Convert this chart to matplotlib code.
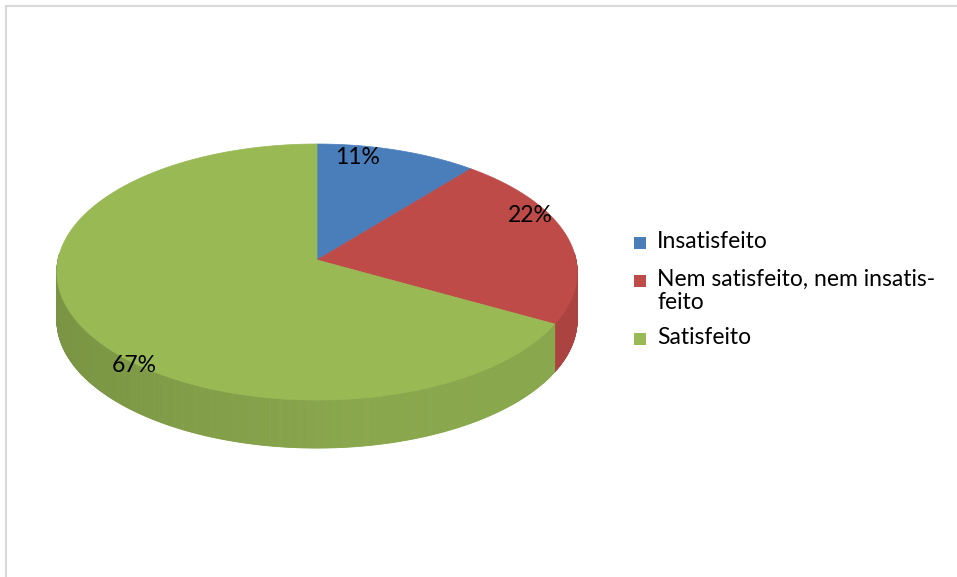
import numpy as np
import matplotlib
matplotlib.use("Agg")
import matplotlib.pyplot as plt
from matplotlib.patches import Polygon, Rectangle

# satisfaction survey, share of answers (%)
labels = ["Insatisfeito", "Nem satisfeito, nem insatis-\nfeito", "Satisfeito"]
values = [11, 22, 67]
colors = ["#4a7ebb", "#be4b48", "#98b954"]

plt.rcParams['font.family'] = ['Lato', 'DejaVu Sans']

W, H = 957, 577
fig = plt.figure(figsize=(W / 100, H / 100), dpi=100)
ax = fig.add_axes([0, 0, 1, 1])
ax.set_xlim(0, W)
ax.set_ylim(H, 0)
ax.axis("off")

# pie geometry in pixels, with a bit of perspective (far side smaller)
cx, cy = 317, 260
rx, ry = 259, 126.9
k = 0.094
depth = 48


def proj(theta, r=1.0):
    u = r * np.cos(theta)
    v = r * np.sin(theta)
    d = 1 + k * v
    return cx + rx * u / d, cy - ry * v / d


def rgb(c):
    c = c.lstrip("#")
    return np.array([int(c[i:i + 2], 16) for i in (0, 2, 4)]) / 255.0


# slice angles, clockwise from 12 o'clock
total = sum(values)
bounds = [np.pi / 2]
for v in values:
    bounds.append(bounds[-1] - 2 * np.pi * v / total)

# side wall, drawn in thin strips with shading
for i, v in enumerate(values):
    a0, a1 = bounds[i], bounds[i + 1]
    base = rgb(colors[i])
    ts = np.linspace(a0, a1, max(int(abs(a1 - a0) * 180), 4))
    for t0, t1 in zip(ts[:-1], ts[1:]):
        if np.sin((t0 + t1) / 2) > 0.05:
            continue
        x0, y0 = proj(t0)
        x1, y1 = proj(t1)
        c = np.cos((t0 + t1) / 2)
        f = 0.80 + 0.10 * np.clip((c + 1) / 1.1, 0, 1)
        col = np.clip(base * f, 0, 1)
        ax.add_patch(Polygon([(x0, y0), (x1, y1), (x1, y1 + depth), (x0, y0 + depth)],
                             closed=True, facecolor=col, edgecolor=col, lw=0.6))

# top faces
for i, v in enumerate(values):
    a0, a1 = bounds[i], bounds[i + 1]
    ts = np.linspace(a0, a1, 200)
    pts = [(cx, cy)] + [proj(t) for t in ts]
    ax.add_patch(Polygon(pts, closed=True, facecolor=colors[i],
                         edgecolor=colors[i], lw=0.5, zorder=3))

# percentage labels
label_pos = [(358, 158), (530, 216), (134, 366)]
for (lx, ly), v in zip(label_pos, values):
    ax.text(lx, ly, f"{v}%", fontsize=16.5, ha="center", va="center",
            color="black", zorder=5)

# legend
leg_y = [243, 281, 339]
for y, lab, col in zip(leg_y, labels, colors):
    ax.add_patch(Rectangle((634, y - 6), 12, 12, facecolor=col, edgecolor="none"))
    ax.text(657, y - 12, lab, fontsize=16.5, ha="left", va="top",
            linespacing=1.1, color="black")

# chart frame
ax.plot([5.5, 5.5], [H, 5.5], color="#d9d9d9", lw=1.5)
ax.plot([5.5, W], [5.5, 5.5], color="#d9d9d9", lw=1.5)

fig.savefig("out.png", dpi=100)
